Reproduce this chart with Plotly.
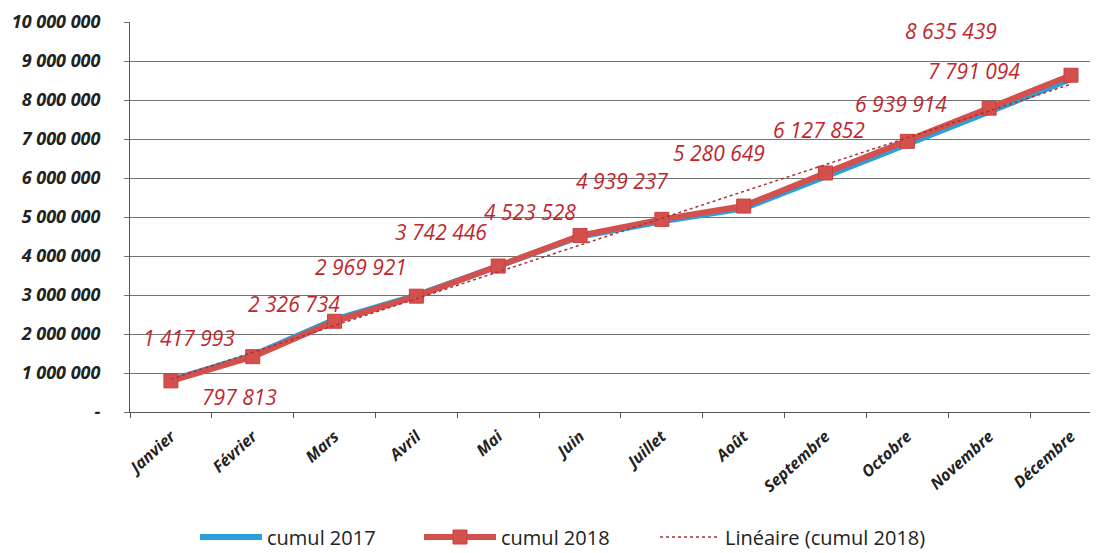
import numpy as np
import plotly.graph_objects as go

# ---- data ----
months = ["Janvier", "Février", "Mars", "Avril", "Mai", "Juin", "Juillet",
          "Août", "Septembre", "Octobre", "Novembre", "Décembre"]
cumul_2017 = [820000, 1450000, 2370000, 2990000, 3740000, 4500000, 4890000,
              5220000, 6040000, 6850000, 7700000, 8540000]
cumul_2018 = [797813, 1417993, 2326734, 2969921, 3742446, 4523528, 4939237,
              5280649, 6127852, 6939914, 7791094, 8635439]
label_2018 = ["797 813", "1 417 993", "2 326 734", "2 969 921", "3 742 446",
              "4 523 528", "4 939 237", "5 280 649", "6 127 852", "6 939 914",
              "7 791 094", "8 635 439"]
y_tickvals = [0, 1000000, 2000000, 3000000, 4000000, 5000000, 6000000,
              7000000, 8000000, 9000000, 10000000]
y_ticktext = ["-", "1 000 000", "2 000 000", "3 000 000", "4 000 000",
              "5 000 000", "6 000 000", "7 000 000", "8 000 000", "9 000 000",
              "10 000 000"]

# linear trendline of 2018 (least squares, as in spreadsheet "Linéaire")
xi = np.arange(1, len(cumul_2018) + 1)
slope, intercept = np.polyfit(xi, cumul_2018, 1)
trend_2018 = list(slope * xi + intercept)

# ---- style (label pixel offsets) ----
label_dx = [69, -64, -41, -55, -57, -50, -40, -25, -7, -6, -15, -120]
label_dy = [-16, 19, 17, 29, 34, 24, 38, 53, 43, 37, 37, 44]

RED = "#D4504C"
BLUE = "#2A9FD8"
LABEL_RED = "#C0272D"
PLOT_L, PLOT_W = 130, 968   # page pixels of plot area

def px_to_paper(px):
    return (px - PLOT_L) / PLOT_W

fig = go.Figure()
fig.add_trace(go.Scatter(
    x=months, y=cumul_2017, name="cumul 2017", mode="lines",
    line=dict(color=BLUE, width=6), legend="legend"))
fig.add_trace(go.Scatter(
    x=months, y=cumul_2018, name="cumul 2018", mode="lines+markers",
    line=dict(color=RED, width=6),
    marker=dict(symbol="square", size=14, color=RED,
                line=dict(color="#C8403C", width=1)), legend="legend2"))
fig.add_trace(go.Scatter(
    x=months, y=trend_2018, name="Linéaire (cumul 2018)", mode="lines",
    line=dict(color="#A8323A", width=1.5, dash="dot"), legend="legend3"))

for m, v, t, dx, dy in zip(months, cumul_2018, label_2018, label_dx, label_dy):
    fig.add_annotation(
        x=m, y=v, text=t, showarrow=False, xshift=dx, yshift=dy,
        font=dict(family="Open Sans", size=21, color=LABEL_RED, style="italic"))

leg_font = dict(family="Open Sans", size=20, color="#222222")
leg_y = (412 - 537) / 390.0

def leg(xpx, w):
    return dict(orientation="h", x=px_to_paper(xpx), xanchor="left",
                y=leg_y, yanchor="middle", font=leg_font, itemwidth=w,
                bgcolor="rgba(0,0,0,0)")

# page has an 8px body margin: figure is sized/offset to compensate
fig.update_layout(
    width=1090, height=545,
    margin=dict(l=122, r=0, t=14, b=141, autoexpand=False),
    paper_bgcolor="white", plot_bgcolor="white",
    font=dict(family="Open Sans", color="#222222"),
    showlegend=True,
    legend=leg(195, 62),
    legend2=leg(419, 72),
    legend3=leg(655, 60),
)
fig.update_xaxes(
    type="category", range=[-0.5, 11.33], automargin=False,
    showgrid=False, showline=True, linecolor="#555555", linewidth=1,
    ticks="outside", tickson="boundaries", ticklen=5, tickcolor="#555555",
    tickangle=-42, ticklabelstandoff=8,
    tickfont=dict(family="Open Sans", size=16, color="#222222",
                  weight="bold", style="italic"))
fig.update_yaxes(
    range=[0, 10000000], tickvals=y_tickvals, ticktext=y_ticktext,
    automargin=False,
    showgrid=True, gridcolor="#737373", gridwidth=1,
    showline=True, linecolor="#555555", linewidth=1,
    ticks="outside", ticklen=5, tickcolor="#737373",
    ticklabelstandoff=20, zeroline=False,
    tickfont=dict(family="Open Sans", size=18, color="#222222",
                  weight="bold", style="italic"))

fig.write_html("out.html")
